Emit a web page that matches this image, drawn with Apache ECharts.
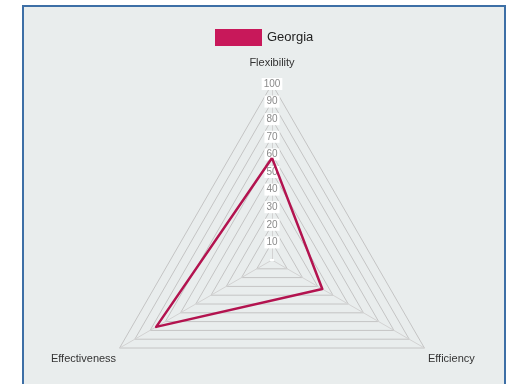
<!DOCTYPE html>
<html>
<head>
<meta charset="utf-8">
<script src="https://cdn.jsdelivr.net/npm/echarts@6/dist/echarts.min.js"></script>
<style>
  html, body { margin: 0; padding: 0; background: #ffffff; }
  #frame {
    position: absolute; left: 22px; top: 5px; width: 484px; height: 400px;
    background: #e9eded; border: 2px solid #3d6fa6; box-sizing: border-box;
  }
  #chart { position: absolute; left: 0; top: 0; width: 513px; height: 384px; }
</style>
</head>
<body>
<div id="frame"></div>
<div id="chart"></div>
<script>
// Radar axes (counter-clockwise from the top) and the single country series
const indicators = ['Flexibility', 'Effectiveness', 'Efficiency'];
const axisMax = 100;
const seriesName = 'Georgia';
const georgiaValues = [58, 76, 33];

const chart = echarts.init(document.getElementById('chart'), null, { renderer: 'canvas' });

const center = [272, 260];
const radius = 176;
const labelFont = 'Liberation Sans, Arial, sans-serif';

chart.setOption({
  backgroundColor: 'transparent',
  animation: false,
  legend: {
    top: 24,
    left: 210,
    itemWidth: 47,
    itemHeight: 17,
    itemGap: 7,
    icon: 'rect',
    data: [seriesName],
    textStyle: { fontSize: 13, color: '#222', fontFamily: labelFont }
  },
  radar: {
    center: center,
    radius: radius,
    startAngle: 90,
    shape: 'polygon',
    splitNumber: 10,
    nameGap: 4,
    axisName: {
      color: '#333',
      fontSize: 11,
      lineHeight: 13,
      fontFamily: labelFont,
      rich: {
        gapTop: { lineHeight: 9, fontSize: 1 },
        gapBottom: { lineHeight: 17, fontSize: 1 }
      },
      // top name sits higher, bottom names drop a little below their corners
      formatter: (name, ind) => (ind && ind.name === indicators[0]
        ? name + '\n{gapTop| }'
        : '{gapBottom| }\n' + name)
    },
    indicator: indicators.map((name, i) => ({
      name: name,
      max: axisMax,
      min: 0,
      axisLabel: i === 0 ? {
        show: true,
        margin: 0,
        align: 'center',
        color: '#8a8a8a',
        fontSize: 10,
        fontFamily: labelFont,
        backgroundColor: '#ffffff',
        padding: [1, 2],
        formatter: v => (v === 0 ? '' : String(v))
      } : { show: false }
    })),
    axisLine: { lineStyle: { color: '#d2d2d2', width: 1 } },
    splitLine: { lineStyle: { color: '#c4c4c4', width: 1 } },
    splitArea: { show: false },
    axisTick: { show: false },
    axisLabel: { show: false }
  },
  series: [{
    type: 'radar',
    name: seriesName,
    symbol: 'none',
    lineStyle: { color: '#b3134f', width: 2.5 },
    itemStyle: { color: '#c8185a' },
    data: [{ value: georgiaValues, name: seriesName }]
  }]
});
</script>
</body>
</html>
